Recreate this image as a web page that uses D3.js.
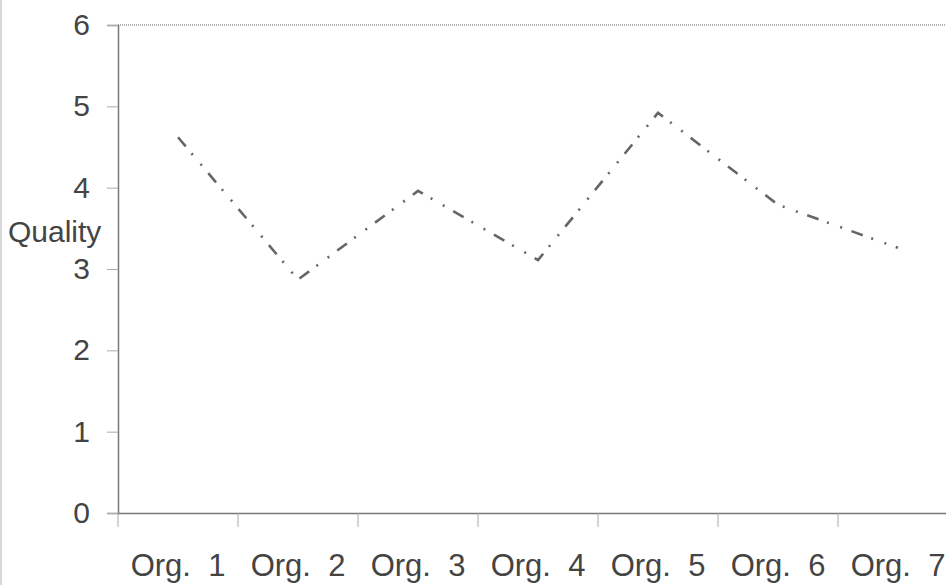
<!DOCTYPE html>
<html><head><meta charset="utf-8">
<script src="https://cdn.jsdelivr.net/npm/d3@7"></script>
<style>body{margin:0;background:#fff}svg{display:block}text{font-family:"Liberation Sans",Arial,sans-serif;fill:#444}</style>
</head><body><svg id="c" width="946" height="585"></svg>
<script>
const categories = ["Org.  1","Org.  2","Org.  3","Org.  4","Org.  5","Org.  6","Org.  7"];
const quality = [4.62, 2.87, 3.96, 3.11, 4.92, 3.79, 3.26];
const yTicks = [0,1,2,3,4,5,6];
const yLabel = "Quality";

const svg = d3.select("#c");
const L = 118, R = 958, T = 25, B = 513;
const x = d3.scaleBand().domain(categories).range([L, R]);
const y = d3.scaleLinear().domain([0, 6]).range([B, T]);

// faint scan edge on the left
svg.append("line").attr("x1", 1).attr("x2", 1).attr("y1", 0).attr("y2", 585)
  .attr("stroke", "#d8d8d8").attr("stroke-width", 2);

// plot frame top line
svg.append("line").attr("x1", L).attr("x2", 946).attr("y1", T).attr("y2", T)
  .attr("stroke", "#999").attr("stroke-width", 1.5).attr("stroke-dasharray","1,1");

const yAxis = svg.append("g").attr("transform", `translate(${L},0)`)
  .call(d3.axisLeft(y).tickValues(yTicks).tickSize(11).tickPadding(17).tickFormat(d3.format("d")));
yAxis.select(".domain").attr("stroke", "#777").attr("stroke-width", 1.5);
yAxis.selectAll(".tick line").attr("stroke", "#aaa");
yAxis.selectAll("text").style("font-size", "30px").attr("fill", "#444");

const xAxis = svg.append("g").attr("transform", `translate(0,${B})`)
  .call(d3.axisBottom(x).tickSize(0).tickPadding(41));
xAxis.select(".domain").attr("stroke", "#777").attr("stroke-width", 1.5);
xAxis.selectAll("text").style("font-size", "31px").attr("fill", "#444")
  .style("white-space","pre").attr("xml:space","preserve");
// band boundary ticks
svg.append("g").selectAll("line").data(categories).join("line")
  .attr("x1", d => x(d)).attr("x2", d => x(d))
  .attr("y1", B).attr("y2", B + 14).attr("stroke", "#aaa");

svg.append("text").attr("x", 8).attr("y", 242).style("font-size", "30px").attr("fill","#444").text(yLabel);

const line = d3.line().x((d, i) => x(categories[i]) + x.bandwidth() / 2).y(d => y(d));
svg.append("path").datum(quality).attr("d", line)
  .attr("fill", "none").attr("stroke", "#666").attr("stroke-width", 2.6)
  .attr("stroke-dasharray", "12,9,2,12,2,10");
</script></body></html>
